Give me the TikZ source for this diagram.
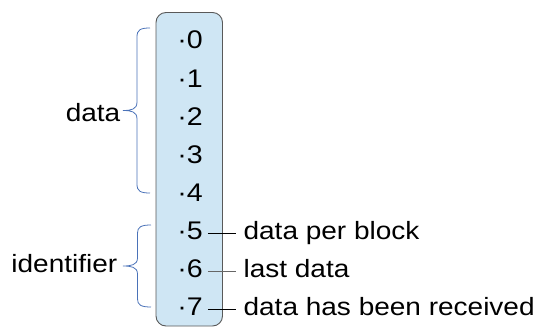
\documentclass[tikz,border=0pt]{standalone}
\usepackage{fontspec}
\setmainfont{Liberation Sans}[FakeStretch=1.12]
\usepackage{tikz}
\usepackage{xcolor}
\usetikzlibrary{positioning}
\definecolor{cellfill}{HTML}{CFE6F4}
\definecolor{bracecol}{HTML}{4A72B8}

\begin{document}
\begin{tikzpicture}[x=1pt,y=1pt]%
  \tikzstyle{bit}=[inner xsep=5pt,inner ysep=0pt,text height=18pt,text depth=6pt,font=\fontsize{25.5}{28}\selectfont]
  \tikzstyle{lbl}=[inner xsep=7.5pt,inner ysep=0pt,text height=18pt,text depth=6pt,font=\fontsize{25}{28}\selectfont]
  \tikzstyle{glbl}=[inner sep=0pt,font=\fontsize{25}{28}\selectfont]
  \tikzstyle{grp}=[draw=bracecol,line width=0.8pt]
  \useasboundingbox (0,0) rectangle (538,327);
  % the byte
  \draw[fill=cellfill,draw=black!65,line width=0.9pt,rounded corners=10pt] (156,1) rectangle (222.5,314.5);
  \foreach \i in {0,...,7}
    \node[bit] (d\i) at (190,284-38.1*\i) {·\i};
  % flag bits
  \node[lbl,right=28pt of d5] (l5) {data per block};
  \node[lbl,right=28pt of d6] (l6) {last data};
  \node[lbl,right=28pt of d7] (l7) {data has been received};
  \draw[line width=0.8pt] (d5) -- (l5);
  \draw[line width=0.8pt,black!60] (d6) -- (l6);
  \draw[line width=0.8pt] (d7) -- (l7);
  % groups
  \coordinate (dtop) at (150,299);
  \coordinate (dbot) at (150,134);
  \coordinate (dtip) at (123,216.5);
  \coordinate (itop) at (151,102);
  \coordinate (ibot) at (151,20);
  \coordinate (itip) at (123,61);
  \draw[grp] (dtop) .. controls (140,299) and (137,297) .. (137,290)
    -- (137,225) .. controls (137,217.5) and (131,216.5) .. (dtip)
    .. controls (131,216.5) and (137,215.5) .. (137,208)
    -- (137,143) .. controls (137,136) and (140,134) .. (dbot);
  \draw[grp] (itop) .. controls (141,102) and (137.5,100) .. (137.5,94)
    -- (137.5,69) .. controls (137.5,62) and (131,61) .. (itip)
    .. controls (131,61) and (137.5,60) .. (137.5,53)
    -- (137.5,28) .. controls (137.5,22) and (141,20) .. (ibot);
  \node[glbl,anchor=base east] (gdata) at (120.5,205.3) {data};
  \node[glbl,anchor=base east] (gid) at (117.5,55) {identifier};
\end{tikzpicture}
\end{document}
